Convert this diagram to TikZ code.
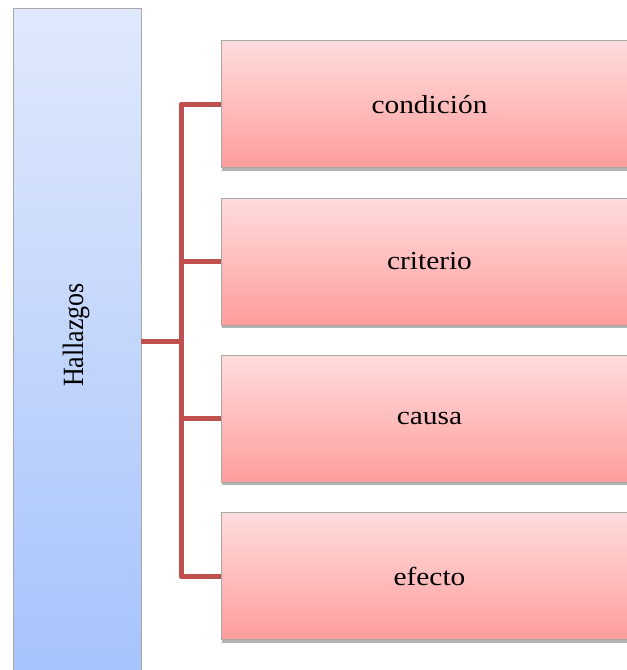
\documentclass[tikz,border=0pt]{standalone}
\usepackage{fontspec}
\setmainfont{Liberation Serif}
\usetikzlibrary{shadows}
\definecolor{linkred}{HTML}{C0504D}
\definecolor{blueTop}{HTML}{E0E9FC}
\definecolor{blueBot}{HTML}{A6C3FC}
\definecolor{redTop}{HTML}{FFDCDC}
\definecolor{redBot}{HTML}{FF9D9D}
\definecolor{edgegray}{HTML}{A8A8A8}
% text set slightly wide, as in the original layout
\newcommand{\widetext}[1]{\scalebox{1.13}[1]{#1}}
\tikzset{
  headbox/.style={draw=edgegray, line width=0.8pt, top color=blueTop, bottom color=blueBot,
    minimum width=128pt, minimum height=672pt, inner sep=0pt},
  itembox/.style={draw=edgegray, line width=0.8pt, top color=redTop, bottom color=redBot,
    minimum width=417pt, minimum height=127pt, inner sep=0pt,
    drop shadow={shadow xshift=0.5pt, shadow yshift=-3pt, opacity=0.3, fill=black},
    font=\fontsize{26}{30}\selectfont},
  headlabel/.style={rotate=90, font=\fontsize{26}{30}\selectfont, inner sep=0pt},
  link/.style={draw=linkred, line width=5pt, line join=round}
}
\begin{document}
\begin{tikzpicture}[x=1pt, y=-1pt]
  \clip (0,0) rectangle (627,670);
  \fill[white] (0,0) rectangle (627,670);

  % left heading column
  \node[headbox] (hall) at (77,344) {};
  \node[headlabel] (hallText) at (76,335) {\scalebox{1}[1.13]{Hallazgos}};

  % the four items
  \node[itembox] (b1) at (429.5,104.2) {\widetext{condición}};
  \node[itembox] (b2) at (429.5,261.5) {\widetext{criterio}};
  \node[itembox] (b3) at (429.5,418.8) {\widetext{causa}};
  \node[itembox] (b4) at (429.5,576.2) {\widetext{efecto}};

  % bracket connector
  \coordinate (hub) at (181,341.7);
  \draw[link] (hall.east |- hub) -- (hub);
  \draw[link] (hub) |- (b1.west);
  \draw[link] (hub) |- (b2.west);
  \draw[link] (hub) |- (b3.west);
  \draw[link] (hub) |- (b4.west);
\end{tikzpicture}
\end{document}
